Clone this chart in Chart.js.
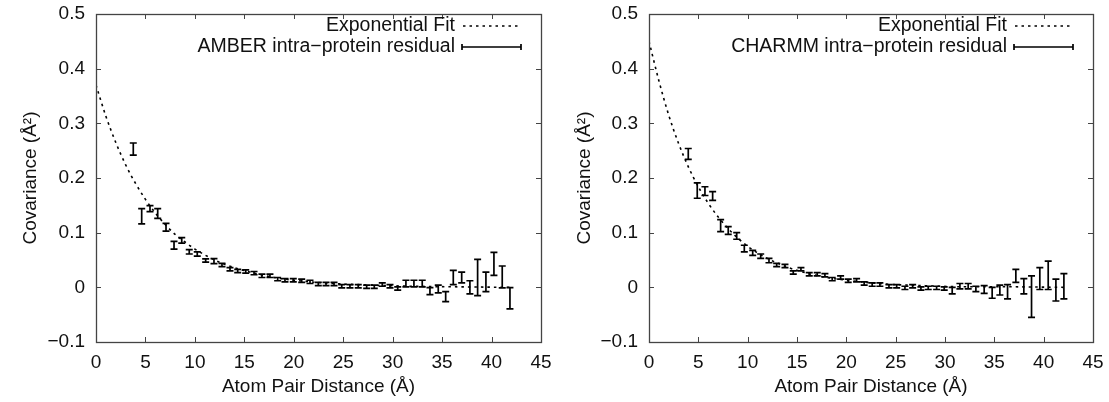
<!DOCTYPE html>
<html>
<head>
<meta charset="utf-8">
<script src="https://cdn.jsdelivr.net/npm/chart.js@4.4.0/dist/chart.umd.min.js"></script>
<style>
body{margin:0;background:#fff;width:1109px;height:402px;overflow:hidden;position:relative}
.panel{position:absolute;top:0;height:402px}
</style>
</head>
<body>
<div class="panel" style="left:0;width:554px"><canvas id="amber" width="554" height="402"></canvas></div>
<div class="panel" style="left:554px;width:555px"><canvas id="charmm" width="555" height="402"></canvas></div>
<script>
// AMBER (panel izquierdo)
const amberX = [3.77, 4.62, 5.46, 6.24, 7.08, 7.89, 8.67, 9.43, 10.24, 11.09, 11.93, 12.74, 13.55, 14.33, 15.14, 15.98, 16.78, 17.59, 18.37,
  19.11, 19.95, 20.8, 21.64, 22.48, 23.26, 24.07, 24.85, 25.68, 26.52, 27.37, 28.14, 28.95, 29.73, 30.51, 31.34, 32.15, 32.99,
  33.77, 34.61, 35.36, 36.13, 36.98, 37.81, 38.59, 39.43, 40.24, 41.08, 41.86]
const amberY = [0.253, 0.130, 0.144, 0.135, 0.110, 0.077, 0.086, 0.065, 0.061, 0.049, 0.048, 0.041, 0.033, 0.030, 0.029, 0.026, 0.021, 0.021, 0.015,
  0.013, 0.013, 0.012, 0.010, 0.006, 0.006, 0.006, 0.002, 0.002, 0.002, 0.001, 0.001, 0.005, 0.002, -0.002, 0.007, 0.007, 0.007,
  -0.007, -0.003, -0.017, 0.018, 0.018, 0.000, 0.018, 0.010, 0.043, 0.019, -0.020]
const amberErr = [0.011, 0.014, 0.0055, 0.009, 0.007, 0.007, 0.005, 0.004, 0.004, 0.003, 0.0045, 0.003, 0.003, 0.003, 0.003, 0.003, 0.003, 0.003, 0.003,
  0.003, 0.003, 0.003, 0.003, 0.003, 0.003, 0.003, 0.003, 0.003, 0.003, 0.003, 0.003, 0.003, 0.003, 0.003, 0.006, 0.006, 0.006,
  0.0065, 0.007, 0.009, 0.013, 0.010, 0.012, 0.033, 0.018, 0.021, 0.020, 0.0195]

// CHARMM (panel derecho)
const charmmX = [3.98, 4.89, 5.67, 6.45, 7.26, 8.03, 8.89, 9.66, 10.51, 11.32, 12.16, 12.94, 13.78, 14.62, 15.40, 16.24, 17.05, 17.83,
  18.57, 19.42, 20.19, 21.04, 21.81, 22.62, 23.40, 24.32, 25.10, 25.94, 26.72, 27.56, 28.30, 29.15, 29.92, 30.73, 31.51, 32.35,
  33.13, 33.97, 34.78, 35.56, 36.34, 37.18, 37.99, 38.77, 39.61, 40.46, 41.24, 42.05]
const charmmY = [0.244, 0.177, 0.176, 0.167, 0.113, 0.104, 0.094, 0.071, 0.063, 0.057, 0.049, 0.041, 0.039, 0.027, 0.033, 0.024, 0.024, 0.022,
  0.015, 0.018, 0.012, 0.013, 0.007, 0.005, 0.005, 0.002, 0.002, -0.001, 0.002, -0.002, -0.001, -0.001, -0.002, -0.006, 0.002, 0.002,
  -0.003, -0.004, -0.010, -0.005, -0.008, 0.021, 0.002, -0.017, 0.016, 0.022, -0.005, 0.002]
const charmmErr = [0.010, 0.014, 0.008, 0.008, 0.011, 0.007, 0.006, 0.006, 0.0046, 0.004, 0.004, 0.003, 0.003, 0.003, 0.003, 0.003, 0.003, 0.003,
  0.003, 0.003, 0.003, 0.003, 0.003, 0.003, 0.003, 0.003, 0.003, 0.003, 0.003, 0.003, 0.003, 0.003, 0.003, 0.006, 0.005, 0.005,
  0.005, 0.007, 0.010, 0.009, 0.013, 0.012, 0.014, 0.038, 0.020, 0.026, 0.020, 0.023]

// curvas de ajuste
const ajusteX = [0, 1, 2, 3, 4, 5, 6, 7, 8, 9, 10, 12, 14, 16, 18, 20, 24, 28, 32, 36, 42]
const ajusteAmber = [0.370, 0.313, 0.265, 0.224, 0.190, 0.161, 0.136, 0.115, 0.097, 0.083, 0.070, 0.050, 0.036, 0.026, 0.018, 0.013, 0.007, 0.004, 0.002, 0.001, 0.000]
const ajusteCharmm = [0.450, 0.378, 0.315, 0.263, 0.220, 0.184, 0.154, 0.129, 0.108, 0.090, 0.075, 0.053, 0.037, 0.026, 0.018, 0.013, 0.006, 0.003, 0.001, 0.001, 0.000]

const fuente = "'Liberation Sans', Arial, sans-serif"
const colorTexto = "#111"
const colorEje = "#444"

const unir = (xs, ys) => xs.map((x, i) => ({x: x, y: ys[i]}))

const formatoY = (v) => {
  if (Math.abs(v) < 1e-9) return "0"
  return v.toFixed(1).replace("-", "\u2212")
}

// barras de error, marcas hacia dentro, marco y leyenda
const extras = {
  id: "extras",
  afterDatasetsDraw(chart) {
    const ctx = chart.ctx
    const ys = chart.scales.y
    chart.data.datasets.forEach((ds, k) => {
      if (!ds.errores) return
      const meta = chart.getDatasetMeta(k)
      ctx.save()
      ctx.strokeStyle = "#000"
      ctx.lineWidth = 1.7
      meta.data.forEach((p, i) => {
        const v = ds.data[i].y
        const e = ds.errores[i]
        const y1 = ys.getPixelForValue(v + e)
        const y2 = ys.getPixelForValue(v - e)
        ctx.beginPath()
        ctx.moveTo(p.x, y1); ctx.lineTo(p.x, y2)
        ctx.moveTo(p.x - 3.5, y1); ctx.lineTo(p.x + 3.5, y1)
        ctx.moveTo(p.x - 3.5, y2); ctx.lineTo(p.x + 3.5, y2)
        ctx.stroke()
      })
      ctx.restore()
    })
  },
  afterDraw(chart) {
    const ctx = chart.ctx
    const a = chart.chartArea
    const xs = chart.scales.x
    const ys = chart.scales.y
    ctx.save()
    ctx.strokeStyle = colorEje
    ctx.lineWidth = 1
    ctx.beginPath()
    xs.ticks.forEach(t => {
      const px = Math.round(xs.getPixelForValue(t.value)) + 0.5
      ctx.moveTo(px, a.bottom); ctx.lineTo(px, a.bottom - 5)
      ctx.moveTo(px, a.top); ctx.lineTo(px, a.top + 5)
    })
    ys.ticks.forEach(t => {
      const py = Math.round(ys.getPixelForValue(t.value)) + 0.5
      ctx.moveTo(a.left, py); ctx.lineTo(a.left + 5, py)
      ctx.moveTo(a.right, py); ctx.lineTo(a.right - 5, py)
    })
    ctx.stroke()
    ctx.lineWidth = 1.3
    ctx.strokeRect(Math.round(a.left) + 0.5, Math.round(a.top) + 0.5, Math.round(a.right - a.left), Math.round(a.bottom - a.top))

    // leyenda
    const txt = chart.options.plugins.extras.etiqueta
    ctx.fillStyle = colorTexto
    ctx.font = "19.5px " + fuente
    ctx.textAlign = "right"
    ctx.textBaseline = "middle"
    const xt = a.right - 86
    const y1 = a.top + 12
    const y2 = a.top + 33
    ctx.fillText("Exponential Fit", xt, y1)
    ctx.fillText(txt, xt, y2)
    ctx.strokeStyle = "#000"
    ctx.lineWidth = 1.6
    ctx.setLineDash([2.5, 4])
    ctx.beginPath()
    ctx.moveTo(a.right - 78, y1); ctx.lineTo(a.right - 20, y1)
    ctx.stroke()
    ctx.setLineDash([])
    ctx.lineWidth = 1.7
    ctx.beginPath()
    ctx.moveTo(a.right - 79, y2); ctx.lineTo(a.right - 20, y2)
    ctx.moveTo(a.right - 79, y2 - 3); ctx.lineTo(a.right - 79, y2 + 3)
    ctx.moveTo(a.right - 20, y2 - 3); ctx.lineTo(a.right - 20, y2 + 3)
    ctx.stroke()
    ctx.restore()
  }
}

const crearGrafico = (canvas, etiqueta, xs, ys, errs, ajuste, anchoEje, padDer) => {
  return new Chart(canvas, {
    type: "scatter",
    data: {
      datasets: [
        {
          type: "line",
          label: "Exponential Fit",
          data: unir(ajusteX, ajuste),
          borderColor: "#000",
          borderWidth: 1.6,
          borderDash: [2.5, 4],
          pointRadius: 0,
          cubicInterpolationMode: "monotone",
          fill: false
        },
        {
          label: etiqueta,
          data: unir(xs, ys),
          errores: errs,
          pointRadius: 0,
          showLine: false
        }
      ]
    },
    options: {
      responsive: false,
      animation: false,
      layout: {padding: {top: 14, right: padDer, left: 0, bottom: 0}},
      plugins: {
        legend: {display: false},
        tooltip: {enabled: false},
        extras: {etiqueta: etiqueta}
      },
      scales: {
        x: {
          type: "linear",
          min: 0, max: 45,
          grid: {display: false, drawTicks: false},
          border: {display: false},
          ticks: {stepSize: 5, color: colorTexto, font: {family: fuente, size: 19}, padding: 9},
          title: {display: true, text: "Atom Pair Distance (\u00c5)", color: colorTexto, font: {family: fuente, size: 19}, padding: {top: 0, bottom: 4}},
          afterFit: (s) => { s.height = 60; s.paddingLeft = 0; s.paddingRight = 0 }
        },
        y: {
          min: -0.1, max: 0.5,
          grid: {display: false, drawTicks: false},
          border: {display: false},
          ticks: {stepSize: 0.1, color: colorTexto, font: {family: fuente, size: 19}, padding: 11, callback: formatoY},
          title: {display: true, text: "Covariance (\u00c5\u00b2)", color: colorTexto, font: {family: fuente, size: 19}, padding: {top: 19, bottom: 0}},
          afterFit: (s) => { s.width = anchoEje; s.paddingTop = 0; s.paddingBottom = 0 }
        }
      }
    },
    plugins: [extras]
  })
}

crearGrafico(document.getElementById("amber"), "AMBER intra\u2212protein residual", amberX, amberY, amberErr, ajusteAmber, 96, 13)
crearGrafico(document.getElementById("charmm"), "CHARMM intra\u2212protein residual", charmmX, charmmY, charmmErr, ajusteCharmm, 95, 16)
</script>
</body>
</html>
